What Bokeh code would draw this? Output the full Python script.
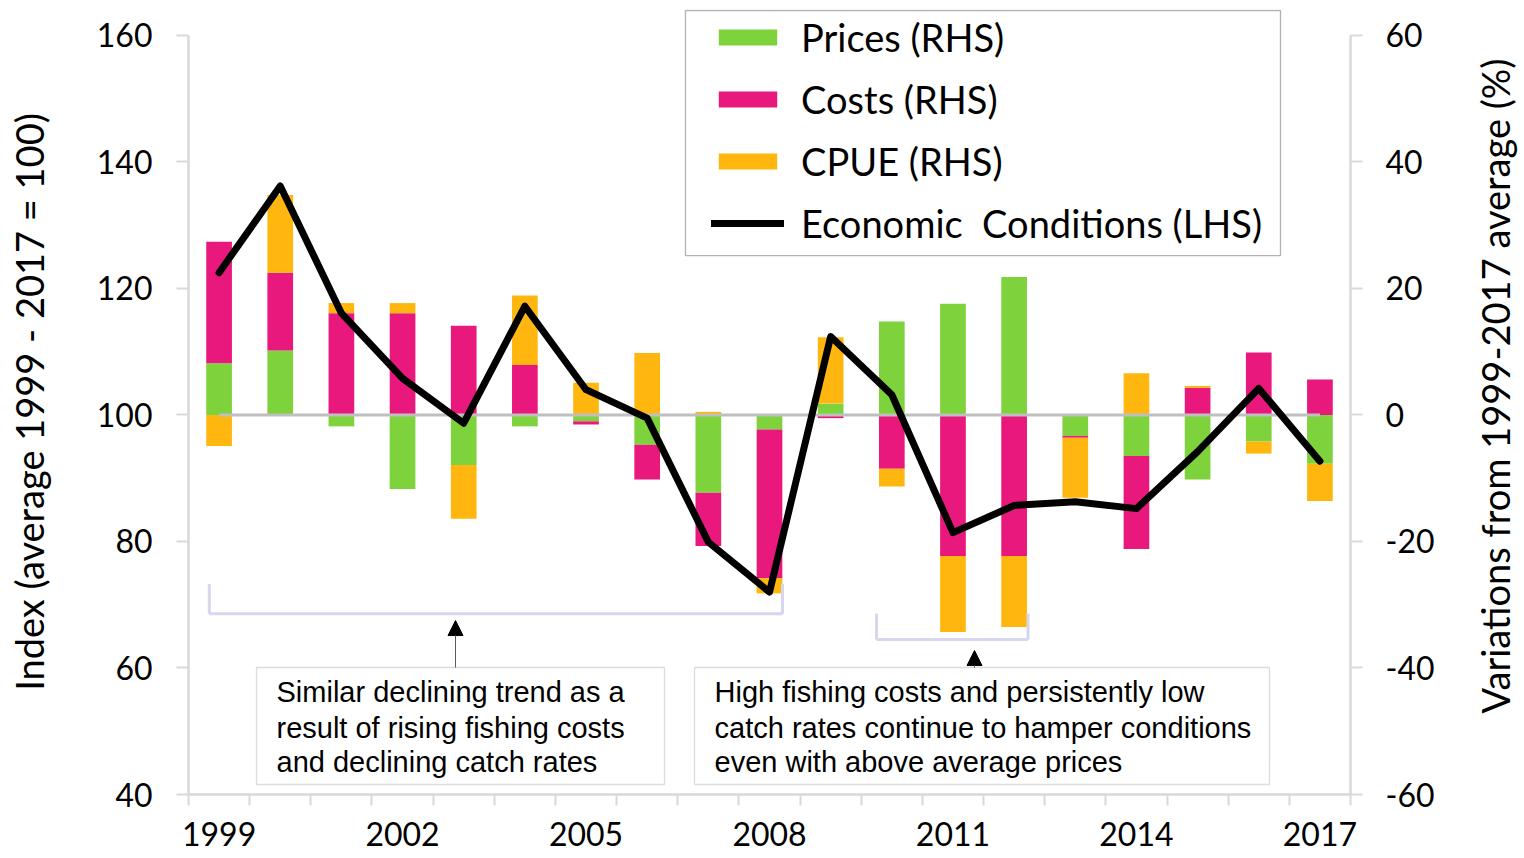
import math
import numpy as np
from bokeh.plotting import figure
from bokeh.layouts import row
from bokeh.models import (Range1d, LinearAxis, FixedTicker, Legend, LegendItem,
                          BoxAnnotation, Label, Arrow, NormalHead, PrintfTickFormatter)
from bokeh.embed import file_html
from bokeh.resources import INLINE

# ---------------- data ----------------
years = [1999, 2000, 2001, 2002, 2003, 2004, 2005, 2006, 2007, 2008,
         2009, 2010, 2011, 2012, 2013, 2014, 2015, 2016, 2017]
# contributions, % variation from 1999-2017 average (RHS)
prices = [8.2, 10.2, -1.8, -11.7, -7.9, -1.8, -1.0, -4.7, -12.3, -2.3,
          1.8, 14.8, 17.6, 21.8, -3.3, -6.5, -10.2, -4.2, -7.7]
costs = [19.2, 12.3, 16.1, 16.1, 14.1, 7.9, -0.5, -5.5, -8.4, -23.5,
         -0.5, -8.5, -22.3, -22.3, -0.3, -14.7, 4.3, 9.9, 5.6]
cpue = [-4.9, 12.3, 1.6, 1.6, -8.5, 11.0, 5.1, 9.8, 0.5, -2.4,
        10.5, -2.8, -12.0, -11.2, -9.5, 6.6, 0.3, -1.9, -5.9]
# economic conditions index (LHS)
econ = [122.5, 136.2, 116.1, 105.8, 98.7, 117.2, 104.0, 99.5, 79.9, 72.0,
        112.4, 103.2, 81.4, 85.7, 86.3, 85.2, 94.2, 104.2, 92.7]

series_names = ["Prices (RHS)", "Costs (RHS)", "CPUE (RHS)"]
line_name = "Economic  Conditions (LHS)"
left_title = "Index (average 1999 - 2017 = 100)"
right_title = "Variations from 1999-2017 average (%)"
left_ticks = [40, 60, 80, 100, 120, 140, 160]
right_ticks = [-60, -40, -20, 0, 20, 40, 60]
year_labels = [1999, 2002, 2005, 2008, 2011, 2014, 2017]
year_bounds = [y - 0.5 for y in years] + [years[-1] + 0.5]

colors = ["#7ED23C", "#E8187C", "#FFB710"]
AXIS_GREY = "#d9d9d9"
FONT = "Lato"
H = 857

# frame extends a little above 160 so the legend box fits inside it
TOP_EXTRA = 4.11

# ---------------- figure ----------------
p = figure(width=1470, height=H, output_backend="svg", toolbar_location=None,
           x_range=Range1d(1998.5, 2017.5), y_range=Range1d(40, 160 + TOP_EXTRA),
           min_border_left=188, min_border_right=120,
           min_border_top=9, min_border_bottom=H - 794)
p.extra_y_ranges = {"rhs": Range1d(-60, 60 + TOP_EXTRA)}
p.outline_line_color = None
p.xgrid.visible = False
p.ygrid.visible = False

# stacked bars (positives stack up, negatives stack down)
pos_base = np.zeros(len(years))
neg_base = np.zeros(len(years))
bar_renderers = []
for vals, c in zip([prices, costs, cpue], colors):
    v = np.array(vals, dtype=float)
    bottom = np.where(v >= 0, pos_base, neg_base + v)
    top = np.where(v >= 0, pos_base + v, neg_base)
    pos_base = pos_base + np.clip(v, 0, None)
    neg_base = neg_base + np.clip(v, None, 0)
    r = p.vbar(x=years, bottom=bottom, top=top, width=0.42,
               fill_color=c, line_color=None, y_range_name="rhs")
    bar_renderers.append(r)

# zero reference line on RHS
p.line(x=years, y=np.zeros(len(years)), line_color="#bfbfbf", line_width=3,
       y_range_name="rhs")

# economic conditions line
line_r = p.line(x=years, y=econ, line_color="black", line_width=7,
                line_join="round", line_cap="round")

# ---------------- axes ----------------
rax = LinearAxis(y_range_name="rhs")
p.add_layout(rax, "right")

lax = p.yaxis[0]
lax.axis_label = left_title
lax.ticker = FixedTicker(ticks=left_ticks, minor_ticks=[])
rax.ticker = FixedTicker(ticks=right_ticks, minor_ticks=[])
lax.bounds = (40, 160)
rax.bounds = (-60, 60)

for ax in [lax, rax]:
    ax.formatter = PrintfTickFormatter(format="%d")
    ax.axis_line_color = AXIS_GREY
    ax.axis_line_width = 2.5
    ax.major_tick_line_color = AXIS_GREY
    ax.major_tick_line_width = 2
    ax.major_tick_out = 12
    ax.major_tick_in = 0
    ax.minor_tick_line_color = None
    ax.major_label_text_font = FONT
    ax.major_label_text_font_size = "32px"
    ax.major_label_text_color = "black"
    ax.axis_label_text_font = FONT
    ax.axis_label_text_font_size = "38px"
    ax.axis_label_text_font_style = "normal"
    ax.axis_label_text_color = "black"

lax.major_label_standoff = 24
lax.axis_label_standoff = 42
rax.major_label_standoff = 23

xax = p.xaxis[0]
xax.ticker = FixedTicker(ticks=year_labels, minor_ticks=year_bounds)
xax.axis_line_color = AXIS_GREY
xax.axis_line_width = 2.5
xax.major_tick_line_color = None
xax.major_tick_out = 0
xax.major_tick_in = 0
xax.minor_tick_line_color = AXIS_GREY
xax.minor_tick_line_width = 2
xax.minor_tick_out = 11
xax.minor_tick_in = 0
xax.major_label_text_font = FONT
xax.major_label_text_font_size = "32px"
xax.major_label_text_color = "black"
xax.major_label_standoff = 16

# ---------------- legend ----------------
p.add_layout(BoxAnnotation(left=2006.626, right=2016.355, top=163.95, bottom=125.2,
                           fill_color="white", fill_alpha=1.0,
                           line_color="black", line_width=1.3))
items = [LegendItem(label=n, renderers=[r]) for n, r in zip(series_names, bar_renderers)]
items.append(LegendItem(label=line_name, renderers=[line_r]))
legend = Legend(items=items, location=(523, 548), orientation="vertical",
                border_line_color=None, background_fill_alpha=0.0,
                padding=0, margin=0, spacing=16,
                glyph_width=73, glyph_height=20, label_standoff=17,
                label_text_font=FONT, label_text_font_size="38px",
                label_text_color="black")
p.add_layout(legend)

# ---------------- annotations ----------------
BRACKET = "#d6d6ec"


def seg(x0, y0, x1, y1, color=BRACKET, width=3):
    p.add_layout(Arrow(x_start=x0, y_start=y0, x_end=x1, y_end=y1, end=None,
                       line_color=color, line_width=width))


# bracket 1 (1999-2008)
seg(1998.84, 73.3, 1998.84, 68.56)
seg(1998.84, 68.56, 2008.213, 68.56)
seg(2008.213, 68.56, 2008.213, 73.3)
# bracket 2 (2010-2012)
seg(2009.75, 68.6, 2009.75, 64.49)
seg(2009.75, 64.49, 2012.227, 64.49)
seg(2012.227, 64.49, 2012.227, 68.6)

# text boxes
for l, r in [(1999.612, 2006.283), (2006.774, 2016.175)]:
    p.add_layout(BoxAnnotation(left=l, right=r, top=60.08, bottom=41.58,
                               fill_color="white", fill_alpha=1.0,
                               line_color="#8c8c8c", line_width=1.3))

# arrows
p.add_layout(Arrow(x_start=2002.866, y_start=60.07, x_end=2002.866, y_end=67.5,
                   line_color="#595959", line_width=1,
                   end=NormalHead(size=15, fill_color="black", line_color="black")))
p.add_layout(Arrow(x_start=2011.352, y_start=60.07, x_end=2011.352, y_end=62.76,
                   line_color="#595959", line_width=1,
                   end=NormalHead(size=15, fill_color="black", line_color="black")))

box1_lines = ["Similar declining trend as a",
              "result of rising fishing costs",
              "and declining catch rates"]
box2_lines = ["High fishing costs and persistently low",
              "catch rates continue to hamper conditions",
              "even with above average prices"]
line_ys = [56.13, 50.59, 45.06]
for x0, lines in [(1999.939, box1_lines), (2007.101, box2_lines)]:
    for t, yy in zip(lines, line_ys):
        p.add_layout(Label(x=x0, y=yy, text=t, text_font="Liberation Sans",
                           text_font_size="29px", text_baseline="middle",
                           text_align="left", text_color="black"))

# ---------------- right-hand axis title (reads bottom to top) ----------------
p2 = figure(width=54, height=H, output_backend="svg", toolbar_location=None,
            x_range=Range1d(0, 1), y_range=Range1d(0, H),
            min_border=0, x_axis_location=None, y_axis_location=None)
p2.outline_line_color = None
p2.grid.visible = False
p2.add_layout(Label(x=0.45, y=H - 411, text=right_title, angle=math.pi / 2,
                    text_align="center", text_baseline="middle",
                    text_font=FONT, text_font_size="38px", text_color="black"))

layout = row(p, p2, spacing=0)
open("out.html", "w").write(file_html(layout, INLINE))
